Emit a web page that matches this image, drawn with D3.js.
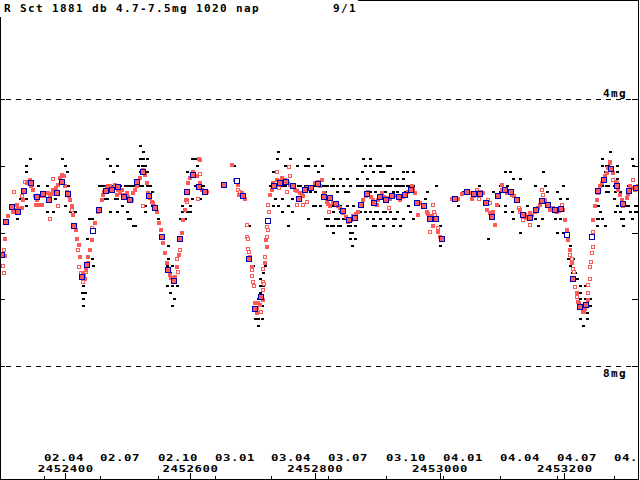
<!DOCTYPE html>
<html><head><meta charset="utf-8">
<script src="https://cdn.jsdelivr.net/npm/d3@7/dist/d3.min.js"></script>
<style>
html,body{margin:0;padding:0;background:#fff;}
svg{display:block;}
text{font-family:"DejaVu Sans Mono",monospace;font-weight:bold;font-size:11px;letter-spacing:1.38px;fill:#000;}
text.ax{font-size:9.5px;letter-spacing:0.44px;}
</style></head>
<body>
<script>
// ---------- data (JD - 2452000, magnitude) ----------
const JD_BASE = 2452000;
const titleText = "R Sct 1881 db 4.7-7.5mg 1020 nap";
const pageText = "9/1";
const magLines = [4, 8];
const magLineLabels = ["4mg", "8mg"];
const magTicks = [4, 5, 6, 7, 8];
const jdTicks = [2452400, 2452600, 2452800, 2453000, 2453200];
const monthTicks = [2452365.5, 2452456.5, 2452548.5, 2452640.5, 2452730.5, 2452821.5, 2452913.5, 2453005.5, 2453096.5, 2453187.5, 2453279.5];
const monthLabels = ["02.04","02.07","02.10","03.01","03.04","03.07","03.10","04.01","04.04","04.07","04."];

// 10-day means [jd, mag, fewObs]
const means = [
[298.2,6.33,0],[305.1,5.84,0],[315.2,5.62,0],[324.8,5.70,0],[334.4,5.38,0],[345.2,5.26,0],[355.3,5.47,0],[364.9,5.42,0],
[374.5,5.51,0],[386.4,5.41,0],[395.3,5.25,0],[405.0,5.43,0],[414.6,5.90,0],[426.4,6.67,0],[435.4,6.49,0],[445.0,5.98,1],
[454.6,5.67,0],[465.4,5.38,0],[475.5,5.36,0],[485.1,5.32,0],[494.7,5.47,0],[504.3,5.52,0],[515.5,5.24,0],[525.2,5.10,0],
[534.8,5.46,0],[544.4,5.64,0],[555.6,6.07,0],[565.2,6.56,0],[574.8,6.73,0],[584.4,6.09,0],[595.7,5.40,0],[605.3,5.14,0],
[614.9,5.32,0],[624.5,5.40,0],[655.0,5.29,0],[675.8,5.23,1],[685.4,5.46,0],[695.0,6.39,0],[704.6,7.14,0],[714.3,6.97,0],
[725.5,5.83,1],[735.1,5.31,0],[744.7,5.26,0],[754.3,5.25,0],[765.5,5.31,0],[775.2,5.50,0],[784.8,5.37,0],[794.4,5.34,0],
[805.6,5.28,0],[815.2,5.47,0],[824.8,5.49,0],[834.5,5.58,0],[845.7,5.68,0],[855.3,5.82,0],[864.9,5.79,0],[874.5,5.59,0],
[884.1,5.43,0],[895.4,5.56,0],[905.0,5.47,0],[914.6,5.52,0],[924.2,5.46,0],[935.4,5.47,0],[945.0,5.44,0],[954.6,5.37,0],
[964.3,5.56,0],[975.5,5.61,0],[985.1,5.80,0],[994.7,5.80,0],[1004.3,6.10,0],[1025.2,5.50,0],[1044.4,5.40,0],[1055.6,5.43,0],
[1065.2,5.43,0],[1074.9,5.56,0],[1084.5,5.77,0],[1094.1,5.46,0],[1105.3,5.37,0],[1114.9,5.40,0],[1124.5,5.52,0],[1134.1,5.74,0],
[1145.4,5.79,0],[1155.0,5.67,0],[1164.6,5.53,0],[1174.2,5.59,0],[1185.4,5.67,0],[1195.0,5.65,0],[1204.7,6.03,1],[1214.3,6.70,0],
[1225.5,7.12,0],[1235.1,7.09,0],[1244.7,6.07,1],[1254.3,5.38,0],[1263.9,5.22,0],[1275.2,5.05,0],[1284.8,5.31,0],[1294.4,5.58,0],
[1304.0,5.38,0],[1315.2,5.34,0]
];

// filled red observations [jd, mag]
const redObs = [
[303.5,6.10],[303,6.35],[308.8,5.76],[313.1,5.61],[319.5,5.66],[324.3,5.65],[330.3,5.64],[338.3,5.26],[340.9,5.24],[345.2,5.30],
[348.9,5.36],[351.6,5.46],[353.2,5.59],[358,5.59],[362.8,5.59],[362.3,5.46],[370.3,5.41],[375.6,5.45],[380.9,5.36],[388.9,5.29],
[394.4,5.14],[397.3,5.15],[399.7,5.31],[407.7,5.51],[410.4,5.61],[413,5.74],[417.3,5.96],[419.4,6.10],[421.6,6.19],[423.7,6.36],
[429,6.61],[431.7,6.69],[437,6.36],[439.7,6.26],[442.5,6.11],[447.7,5.86],[453,5.69],[458.5,5.51],[461,5.44],[466.5,5.34],
[471.8,5.31],[479.8,5.29],[482.5,5.44],[487.8,5.41],[490.5,5.36],[498.5,5.41],[506.6,5.51],[509.1,5.41],[514.6,5.31],[519.9,5.19],
[524.2,5.06],[530.6,5.26],[533.2,5.41],[538.6,5.54],[541.2,5.56],[546.6,5.69],[550.8,5.86],[553.5,5.96],[557.2,6.16],[559.9,6.31],
[562.6,6.46],[568,6.64],[572.3,6.71],[576,6.66],[578.7,6.51],[582.4,6.34],[586.7,6.01],[589.3,5.81],[592,5.66],[594.7,5.51],
[597.3,5.26],[600,5.19],[605.3,5.09],[610.7,5.16],[616,5.26],[618.7,5.36],[626.8,5.39],[616,4.91],[666.8,4.99],[672.1,5.21],
[677.4,5.29],[679,5.44],[682.8,5.41],[688.1,5.50],[696.2,6.36],[698.9,6.51],[704.2,7.05],[706.9,7.21],[709.5,7.06],[717.5,7.01],
[720.2,6.46],[721.8,6.11],[722.9,6.21],[728.2,5.44],[730.9,5.36],[733.5,5.26],[739,5.21],[747,5.19],[752.2,5.21],[760.3,5.29],
[768.3,5.36],[776.3,5.41],[781.6,5.46],[787,5.34],[800.3,5.26],[811,5.21],[814.7,5.41],[819.1,5.54],[824.4,5.61],[829.6,5.56],
[837.7,5.61],[845.7,5.71],[853.7,5.84],[861.7,5.76],[869.7,5.69],[877.7,5.51],[885.7,5.39],[893.8,5.51],[899.2,5.59],[907.2,5.41],
[915.2,5.49],[925.8,5.44],[936.5,5.51],[944.5,5.44],[955.3,5.31],[960.6,5.41],[965.9,5.74],[968.6,5.56],[979.3,5.69],[987.3,5.76],
[989.9,5.91],[997.9,5.99],[1000.6,6.06],[1019.4,5.50],[1030,5.50],[1048.7,5.41],[1051.5,5.50],[1062,5.39],[1070,5.41],[1075.5,5.66],
[1080.8,5.71],[1086.1,5.69],[1088.8,5.89],[1092.5,5.59],[1099.5,5.29],[1107.5,5.41],[1115.5,5.44],[1123.6,5.51],[1128.9,5.66],[1136.9,5.74],
[1144.9,5.71],[1152.9,5.69],[1160.9,5.59],[1168.9,5.51],[1176.9,5.66],[1187.7,5.69],[1198.2,5.66],[1201,5.81],[1203.7,5.96],[1206.3,6.11],
[1209,6.26],[1211.7,6.46],[1215.4,6.71],[1219.7,6.91],[1223.9,7.06],[1229.3,7.19],[1233,7.14],[1238.3,7.01],[1246.3,5.81],[1249,5.61],
[1251.8,5.51],[1257.1,5.31],[1262.3,5.21],[1267.8,5.11],[1273.1,4.96],[1278.4,5.11],[1286.4,5.36],[1291.8,5.51],[1299.9,5.49],[1305.2,5.31],
[1313.1,5.36],
[462.2,5.39],[468.6,5.30],[475,5.33],[484.6,5.36],[492.6,5.44],[500.6,5.47],[511.9,5.36],[527.9,5.14],[535.9,5.48],[542.3,5.60],
[316.3,5.69],[322.7,5.59],[332.4,5.51],[343.6,5.21],[346.8,5.29],[354.8,5.51],[366,5.45],[372.4,5.41],[378.8,5.42],[385.2,5.33],
[391.7,5.18],[402.9,5.39],[406.1,5.45],
[736.2,5.30],[742.6,5.23],[749,5.21],[757,5.26],[763.5,5.32],[771.5,5.38],[779.5,5.44],[790.7,5.35],[795.5,5.32],[805.1,5.24],
[808.3,5.30],[821.2,5.57],[832.4,5.59],[840.4,5.63],[850,5.77],[858,5.81],[866,5.72],[874,5.59],[882,5.45],[890.1,5.47],
[901.3,5.51],[910.9,5.47],[920.5,5.50],[930.1,5.45],[941.3,5.47],[949.4,5.39],[957.4,5.35],[973.4,5.59],[981.4,5.72],
[1035.9,5.42],[1042.3,5.39],[1055.1,5.45],[1066.4,5.39],[1101.6,5.36],[1111.2,5.39],[1119.2,5.45],[1140.1,5.78],[1148.1,5.74],
[1157.7,5.63],[1165.7,5.54],[1181.7,5.63],[1191.4,5.68],
[1253.9,5.41],[1260.3,5.26],[1265.1,5.15],[1269.9,5.03],[1276.3,5.03],[1282.7,5.24],[1289.1,5.44],[1295.5,5.57],[1301.9,5.42],
[1310,5.33],[1318,5.30],
[430.1,6.65],[433.3,6.56],[569.5,6.68],[574.3,6.74],[707.4,7.13],[712.2,7.09],[1226.6,7.13],[1231.4,7.19],[1236.2,7.07]
];

// open red observations [jd, mag]
const redOpenObs = [
[302.4,6.26],[300.8,6.50],[302.4,6.60],[318,5.40],[330.3,5.46],[335.6,5.24],[375.6,5.80],[380.9,5.20],[383.6,5.36],[388.9,5.61],
[410.4,5.66],[421,6.26],[422.6,6.51],[424.8,6.61],[429,6.74],[433.3,6.59],[436,6.46],[442.5,5.94],[525.2,5.61],[578.7,6.39],
[584,6.26],[581.2,6.59],[593.6,5.51],[594.7,5.55],[614.9,4.90],[613.3,5.50],[616,5.13],[676.4,5.36],[680.1,5.40],[690.9,5.89],
[690.9,6.06],[692.5,6.10],[693.4,6.24],[694.5,6.29],[699.8,6.56],[699.8,6.65],[701.4,6.74],[702.6,6.80],[717.5,6.74],[719.1,6.77],
[717.5,6.86],[717.5,6.55],[720.2,6.36],[725.5,5.59],[726.6,5.69],[723.9,5.92],[724.5,5.96],[723.9,6.06],[714.3,7.19],[739,5.10],
[759.1,5.02],[760.3,5.16],[743.1,5.34],[755,5.39],[771,5.59],[780.6,5.59],[787,5.54],[813.6,5.47],[823.2,5.69],[919.4,5.64],
[964.3,5.56],[989.9,5.59],[991,5.69],[992.6,5.74],[995.4,5.81],[997.9,5.94],[984.6,5.99],[1059.5,5.36],[1063.6,5.50],[1078,5.51],
[1080.8,5.56],[1099.5,5.36],[1127.7,5.64],[1128.9,5.69],[1134.1,5.81],[1144.9,5.89],[1163.6,5.36],[1166.2,5.44],[1195.7,5.59],[1209,6.34],
[1211.7,6.39],[1213.3,6.54],[1215.4,6.59],[1217,6.81],[1219.7,6.96],[1222.3,7.04],[1241,6.69],[1241,6.51],[1242.2,6.44],[1243.8,6.31],
[1245.4,6.21],[1245.4,5.99],[1238.3,6.79],[1238.3,6.91],[1273.1,4.94],[1278.4,5.21],[1283.8,5.26],[1294.4,5.61],[1309.4,5.21]
];

// visual estimates [jd, [mags]]
const visualObs = [
[319.5,[5.6]],[322.7,[5.8]],[327.6,[5.5]],[337.2,[5.0,5.1,5.5,5.6]],[343.6,[4.9,5.3]],[356.4,[5.3]],[370.8,[5.3,5.7]],
[375.6,[5.5]],[380.4,[5.7]],[383.6,[5.5]],[394.9,[4.9]],[399.7,[5.0,5.6]],[402.9,[5.1]],[404.5,[5.3]],[407.7,[5.7]],
[415.7,[5.7]],[426.9,[6.7,6.9]],[428.5,[6.8,7.0,7.1]],[431.7,[6.7,6.9]],[434.9,[6.1]],[438.1,[5.8]],[442.9,[6.4,5.8]],
[444.5,[6.5]],[454.2,[5.3]],[459,[5.5,5.3]],[467,[4.9,5.5]],[471.8,[5.0,5.3,5.7]],[476.6,[5.1,5.3]],[483,[5.0,5.7,5.5]],
[487.8,[5.3]],[491,[5.6,5.5]],[495.8,[5.5,5.3]],[499,[5.7]],[503.8,[5.8,5.3]],[508.6,[5.9,5.3]],[516.7,[5.0]],
[519.9,[4.7,4.9,5.1,5.3]],[524.7,[4.8,4.9,5.0]],[527.9,[5.0,5.6,5.7]],[531.1,[4.9,5.1,5.3]],[535.9,[5.3]],[539.1,[5.4,5.6]],
[545.5,[5.7]],[548.7,[5.8]],[563.1,[6.5,6.8]],[564.7,[6.2,6.4]],[567.9,[6.6,6.9]],[571.1,[6.5,6.8,7.1]],[574.3,[7.0]],
[579.2,[6.5,6.8]],[584,[5.8]],[587.2,[5.7,5.6]],[592,[5.8]],[595.2,[5.1,5.7]],[600,[5.6,5.7]],[603.2,[4.9,5.5]],
[608,[4.9,5.3]],[611.2,[5.0,5.5]],[616,[5.3,5.5]],[620.8,[5.3]],[670.5,[5.0]],[694.5,[5.9]],[701,[6.5]],[704.2,[7.3]],
[709,[7.0,7.3,7.4]],[712.2,[6.7,6.8,6.9]],[715.4,[7.1,7.3]],[717,[6.6,6.8]],[720.2,[6.5]],[728.2,[5.3]],[733,[5.1,5.6]],
[736.2,[5.5]],[739.4,[4.9,5.3]],[741,[4.8,5.6]],[747.4,[5.5,5.7,5.3]],[752.2,[5.0,5.3]],[757,[5.6,5.9]],[760.3,[4.9,5.3]],
[763.5,[5.5,5.7]],[771.5,[5.0]],[776.3,[5.3]],[781.1,[5.4]],[789.1,[4.9,5.0,5.8,5.3]],[792.3,[5.4]],[800.3,[5.0,5.4,5.6]],
[805.1,[5.1,5.3]],[808.3,[5.6]],[811.5,[5.0,5.3]],[819.5,[5.9,5.3]],[821.2,[5.8]],[829.2,[5.2,5.3,5.6,5.7,5.9,6.0]],
[832.4,[5.8]],[835.6,[5.4,5.3]],[840.4,[5.2,5.7,5.9,5.6]],[845.2,[5.3,5.8]],[848.4,[5.8,5.4]],[851.6,[5.2,5.6]],
[856.4,[5.3,5.9,6.0,6.1]],[859.6,[6.2,6.0]],[864.4,[5.9,6.1]],[867.6,[5.2,5.3]],[875.6,[5.1,5.3]],[877.3,[4.9]],
[883.7,[5.2,5.3,5.8]],[888.5,[4.9,5.0,5.3,5.7,5.4]],[893.3,[5.1,5.9,5.8]],[899.7,[5.0,5.3,5.7]],[904.5,[5.0,5.1,5.3,5.8]],
[909.3,[5.1,5.4,5.7,5.9]],[915.7,[5.0,5.3,5.8]],[920.5,[5.0,5.3,5.7]],[923.7,[5.2]],[928.5,[5.8,5.3]],[931.7,[5.4,5.7,5.2]],
[936.5,[5.9,5.3]],[941.3,[5.1,5.2,5.3,5.8]],[944.5,[5.4]],[949.4,[5.6]],[952.6,[5.3,5.7]],[957.4,[5.1,5.3,5.8]],
[976.6,[5.5]],[979.8,[5.4]],[994.2,[5.3]],[1000.6,[5.9,6.2]],[1029.5,[5.6]],[1037.5,[5.4]],[1063.1,[5.3]],[1064.7,[5.4]],
[1077.6,[6.1]],[1080.8,[5.8]],[1085.6,[5.4]],[1093.6,[5.6]],[1096.8,[5.3,5.4]],[1104.8,[5.1,5.6,5.7]],[1108,[5.3]],
[1112.9,[5.1]],[1116.1,[5.7]],[1117.7,[5.2,5.8]],[1128.9,[5.2,6.0]],[1140.1,[5.6]],[1152.9,[5.3,5.8]],[1157.7,[5.9]],
[1164.1,[5.8]],[1165.7,[5.1]],[1168.9,[5.3]],[1172.1,[5.4]],[1184.9,[5.8]],[1188.1,[5.4,6.0]],[1192.9,[5.5,5.8]],
[1198.1,[5.3,6.0]],[1204.2,[5.5]],[1205.8,[6.4]],[1209,[6.2,6.5]],[1212.2,[6.6]],[1213.8,[6.4]],[1217,[6.6]],[1220.2,[6.7]],
[1225,[6.8,6.9,7.0,7.3]],[1229.8,[7.1,7.2,7.4]],[1233,[6.8,7.0]],[1236.2,[6.9,7.2,7.3]],[1241,[7.0,7.1]],[1252.2,[5.8,5.9]],
[1257.1,[5.7]],[1260.3,[4.9,5.0,5.3,5.8]],[1263.5,[5.2]],[1265.1,[5.1,5.9]],[1269.9,[5.0,5.3,5.4]],[1273.1,[4.8]],
[1276.3,[5.1]],[1279.5,[5.3,5.5]],[1284.3,[5.0,5.1,5.2,5.6]],[1289.1,[5.4,5.7]],[1294.4,[5.9,5.8]],[1298.7,[5.5,5.6]],
[1305.2,[5.4,5.7]],[1308.3,[4.9,5.8]],[1310,[5.0]],[1313.1,[5.3,5.7,5.6]],[1318,[5.3]],
[773.1,[5.3,5.5]],[784.3,[5.3,5.0]],[797.1,[5.3,5.6]],[816.3,[5.3,5.4,5.8]],[826,[5.3,5.5,5.9]],[837.2,[5.6,5.8,5.9]],
[853.2,[5.4,5.8,5.9]],[861.2,[5.6,5.8]],[872.4,[5.3,5.7]],[880.5,[5.0,5.4,5.7]],[896.5,[5.3,5.4,5.7,5.9]],[912.5,[5.3,5.7,5.4]],
[925.3,[5.4,5.8,5.9]],[933.3,[5.3,5.5]],[947.8,[5.3,5.1]],
[463.8,[5.3,5.5]],[479.8,[5.3,5.5]],[500.6,[5.3,5.8]],[511.9,[5.3,5.9]],[523.1,[4.9,5.0,5.3]],
[1253.9,[5.6,5.8]],[1266.7,[5.0,5.3,5.4]],[1281.1,[5.4,5.7]],[1290.7,[5.6,5.8]],[1301.9,[5.3,5.6]],[1316.3,[5.6,5.7]]
];

// ---------- drawing ----------
const W = 640, H = 480;
const svg = d3.select("body").append("svg").attr("width", W).attr("height", H);

const x = d3.scaleLinear().domain([2452295.5, 2453318]).range([0, 638]);
const y = d3.scaleLinear().domain([4, 8]).range([99, 366]);
const px = j => Math.round(x(JD_BASE + j));
const py = m => Math.round(y(m));

svg.append("defs").append("clipPath").attr("id", "plotclip")
  .append("rect").attr("x", 0).attr("y", 0).attr("width", 638).attr("height", 479);

const plot = svg.append("g").attr("clip-path", "url(#plotclip)");

// dashed magnitude lines
plot.selectAll("line.mag").data(magLines).join("line")
  .attr("x1", 0).attr("x2", 638)
  .attr("y1", d => Math.round(y(d)) + 0.5).attr("y2", d => Math.round(y(d)) + 0.5)
  .attr("stroke", "#000").attr("stroke-width", 1).attr("stroke-dasharray", "5,5")
  .attr("stroke-dashoffset", -6).attr("shape-rendering", "crispEdges");

// visual obs (black)
const vis = [];
visualObs.forEach(([j, ms]) => ms.forEach(m => vis.push([j, m])));
plot.selectAll("rect.vis").data(vis).join("rect")
  .attr("x", d => px(d[0]) - 1)
  .attr("y", d => py(d[1]) - 1)
  .attr("width", 3).attr("height", 2).attr("fill", "#000")
  .attr("shape-rendering", "crispEdges");

// red open
plot.selectAll("rect.ro").data(redOpenObs).join("rect")
  .attr("x", d => px(d[0]) - 1.5)
  .attr("y", d => py(d[1]) - 1.5)
  .attr("width", 3).attr("height", 3)
  .attr("fill", "#fff").attr("stroke", "#ff5a5a").attr("stroke-width", 1)
  .attr("shape-rendering", "crispEdges");

// red filled
plot.selectAll("rect.rf").data(redObs).join("rect")
  .attr("x", d => px(d[0]) - 2)
  .attr("y", d => py(d[1]) - 2)
  .attr("width", 4).attr("height", 4).attr("fill", "#ff5a5a")
  .attr("shape-rendering", "crispEdges");

// means (blue)
plot.selectAll("rect.mean").data(means).join("rect")
  .attr("x", d => px(d[0]) - 2.5)
  .attr("y", d => py(d[1]) - 2.5)
  .attr("width", 5).attr("height", 5)
  .attr("fill", d => d[2] ? "#fff" : "#ff5a5a")
  .attr("stroke", "#0000b4").attr("stroke-width", 1)
  .attr("shape-rendering", "crispEdges");

// axes ticks
const axB1 = svg.append("g").attr("transform", "translate(0,479)")
  .call(d3.axisTop(x).tickValues(jdTicks).tickSize(6).tickFormat(""));
const axB2 = svg.append("g").attr("transform", "translate(0,479)")
  .call(d3.axisTop(x).tickValues(monthTicks).tickSize(3).tickFormat(""));
const axL = svg.append("g").attr("transform", "translate(0,0)")
  .call(d3.axisRight(y).tickValues(magTicks).tickSize(5).tickFormat(""));
const axR = svg.append("g").attr("transform", "translate(638,0)")
  .call(d3.axisLeft(y).tickValues(magTicks).tickSize(6).tickFormat(""));
[axB1, axB2, axL, axR].forEach(g => {
  g.select(".domain").remove();
  g.selectAll("line").attr("stroke", "#000").attr("shape-rendering", "crispEdges");
});

// frame
svg.append("rect").attr("x", 0.5).attr("y", 0.5).attr("width", 638).attr("height", 479)
  .attr("fill", "none").attr("stroke", "#000").attr("stroke-width", 1)
  .attr("shape-rendering", "crispEdges");

// title box
svg.append("rect").attr("x", 0).attr("y", 0).attr("width", 358).attr("height", 17).attr("fill", "#fff");
svg.append("text").attr("x", 4).attr("y", 12).text(titleText);
svg.append("text").attr("x", 333).attr("y", 12).text(pageText);

// magnitude line labels
svg.selectAll("text.ml").data(magLines).join("text")
  .attr("x", 603).attr("y", (d, i) => i === 0 ? y(d) - 2 : y(d) + 11)
  .text((d, i) => magLineLabels[i]);

// x labels (wide glyphs, like the original bitmap font)
const labG = svg.append("g");
labG.selectAll("text.mo").data(monthTicks).join("text")
  .attr("class", "ax")
  .attr("transform", d => `translate(${Math.round(x(d))},460.5) scale(1.3,1)`)
  .text((d, i) => monthLabels[i]);
labG.selectAll("text.jd").data(jdTicks).join("text")
  .attr("class", "ax")
  .attr("transform", d => `translate(${x(d) + 0.5},471.5) scale(1.3,1)`)
  .attr("text-anchor", "middle")
  .text(d => String(d));
</script>
</body></html>
